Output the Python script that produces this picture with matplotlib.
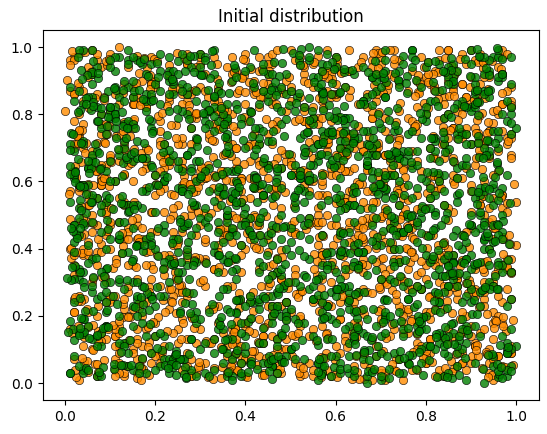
import numpy as np
import matplotlib
matplotlib.use("Agg")
import matplotlib.pyplot as plt

# agent locations in hundredths of the unit square
orange_x = """
37 82 05 61 94 18 73 46 29 57 08 91 64 33 76 12 48 99 21 67 03 85 52 39 70 14 96 27 58 81 43 09 66 35 88 24 71 50 02 93
16 79 44 62 31 87 06 55 98 23 68 40 11 84 59 26 77 04 92 47 35 63 19 86 51 28 74 01 95 42 69 13 80 57 30 97 22 65 38 89
53 07 72 45 90 17 61 34 83 10 56 99 28 75 41 02 67 36 93 20 78 49 15 86 58 32 71 04 95 26 63 48 11 84 39 70 23 57 91 06
44 81 29 66 13 97 52 08 74 37 60 25 89 46 03 78 31 94 55 19 68 42 85 10 63 27 99 50 36 72 14 88 47 21 59 01 76 33 92 65
09 54 87 30 71 18 96 43 62 05 79 38 24 91 57 12 84 66 40 27 73 02 98 51 35 80 16 69 45 93 22 58 07 77 34 86 49 11 64 100
26 70 41 83 15 59 32 97 48 06 75 21 90 53 37 64 10 82 44 28 99 61 17 73 52 04 88 39 66 23 95 46 13 79 56 31 02 85 68 20
92 38 63 11 77 45 24 86 00 57 33 70 14 96 49 81 27 62 08 54 91 36 75 19 43 87 60 29 05 72 48 94 15 67 34 80 56 22 99 41
71 13 58 84 27 03 66 40 95 19 52 87 31 74 09 46 63 98 25 80 12 57 39 91 68 06 43 77 30 85 18 61 94 50 37 02 73 26 89 55
34 67 08 90 51 23 78 45 16 99 62 30 85 04 71 38 56 12 93 47 26 81 65 09 53 97 20 74 42 88 01 59 35 83 14 68 46 97 21 76
60 25 93 42 07 81 35 69 14 88 53 26 72 47 98 10 64 31 85 03 76 58 22 94 39 67 11 83 50 28 90 44 17 73 61 05 96 37 55 80
18 86 49 02 73 57 29 95 64 36 11 80 43 67 22 91 08 54 77 35 60 14 89 46 71 25 99 52 03 68 40 84 29 62 10 93 48 75 32 07
83 45 15 70 39 92 61 04 27 78 50 96 33 12 87 56 41 69 18 99 24 83 06 65 37 90 48 16 74 59 31 05 88 43 66 21 97 54 12 79
47 02 76 58 23 85 10 63 94 31 69 07 82 45 54 28 95 13 61 38 72 49 86 20 03 57 79 34 62 15 91 70 26 45 83 08 60 39 94 51
68 93 31 16 88 44 72 27 55 03 84 62 19 98 35 74 47 02 80 59 11 95 36 53 88 42 17 66 24 99 07 52 77 33 48 91 13 84 65 28
05 58 87 43 64 19 37 91 80 49 22 74 56 08 63 40 15 97 28 71 46 33 60 82 14 75 51 99 38 06 63 85 41 20 57 76 30 02 89 44
76 29 52 95 10 67 83 46 21 58 93 35 04 70 88 17 52 79 43 26 64 90 08 38 97 29 61 13 84 46 72 23 55 94 09 68 37 81 16 60
39 81 24 67 98 32 05 56 74 12 45 86 63 27 40 92 69 34 15 87 50 21 78 57 42 65 03 90 71 18 36 100 47 62 28 85 53 06 74 97
14 63 90 08 51 76 42 18 99 65 31 07 94 53 81 24 36 60 89 11 73 47 98 04 26 84 44 59 17 80 52 66 01 38 92 14 75 45 30 57
87 40 69 33 22 96 59 71 37 88 04 50 28 79 15 63 95 48 07 54 33 68 26 91 55 12 78 35 93 62 20 41 86 70 56 03 28 99 62 19
52 07 35 81 66 14 89 25 46 61 77 97 10 39 64 06 83 21 72 30 92 57 15 43 69 81 32 06 48 25 98 77 11 64 38 86 51 23 08 71
29 74 97 50 03 43 27 85 62 10 55 39 68 83 48 90 19 75 57 66 02 39 80 63 17 94 45 72 89 36 13 58 69 30 84 45 97 16 82 41
95 36 18 72 84 58 11 93 02 70 20 63 41 17 96 34 55 87 43 24 78 61 09 28 83 50 67 21 06 75 47 90 33 54 18 71 02 66 37 88
61 87 45 23 39 06 78 49 31 96 84 13 58 91 27 73 09 40 26 99 47 16 70 95 34 59 08 86 41 63 29 82 77 07 60 23 50 91 44 15
08 51 72 99 27 65 92 16 57 34 43 71 05 86 62 19 46 93 67 01 54 88 37 12 76 46 90 24 65 52 82 10 39 97 74 55 30 85 61 26
43 19 84 60 12 88 47 30 71 09 95 38 76 22 53 81 28 64 04 90 16 69 43 79 21 02 57 96 31 18 70 42 94 62 26 89 14 78 49 34
""".split()

orange_y = """
71 22 48 93 06 64 37 85 12 59 80 28 43 97 15 66 31 74 09 52 88 40 19 61 03 77 34 95 50 26 82 13 69 45 98 07 58 21 86 36
47 90 14 63 29 81 55 02 73 38 96 17 60 42 85 24 69 11 53 78 33 99 06 67 45 20 89 57 30 74 08 62 91 39 16 83 51 27 70 04
92 35 67 18 84 43 09 76 58 25 41 88 03 64 19 97 47 72 30 56 12 81 60 38 93 22 75 49 01 86 63 31 14 79 54 95 28 44 65 10
56 13 80 42 71 97 27 61 36 04 89 53 74 20 48 32 06 91 67 45 79 15 99 24 57 84 37 68 11 92 46 73 23 59 02 87 34 62 98 18
30 77 05 88 52 16 94 44 70 21 63 09 37 83 56 11 85 28 40 95 62 25 71 06 43 80 16 54 97 33 68 04 86 48 23 76 90 14 58 41
83 49 26 60 35 78 12 99 03 69 18 75 51 94 29 64 40 57 87 02 33 70 46 91 17 58 82 08 37 65 21 95 54 11 79 42 63 27 04 90
15 64 93 07 46 23 87 51 81 38 72 44 27 08 66 89 13 35 60 78 96 49 22 85 66 31 03 72 92 14 59 40 76 27 88 06 47 71 33 55
68 02 39 75 98 57 33 18 62 90 05 31 92 59 44 23 74 98 16 52 09 84 57 34 01 93 47 19 63 80 39 75 10 66 50 32 99 19 85 24
41 86 59 28 14 84 66 06 49 73 55 98 16 77 03 70 52 83 25 37 71 13 94 61 78 24 88 53 41 06 96 23 62 87 45 13 71 56 08 79
97 27 71 50 63 09 45 92 20 15 82 66 40 33 87 47 18 61 90 74 28 56 38 03 49 65 11 36 99 71 17 85 42 04 68 91 26 80 48 35
24 60 13 86 40 31 79 55 74 94 26 08 71 49 58 12 94 06 39 63 85 35 20 77 89 42 68 95 26 48 83 02 57 32 81 23 64 01 73 96
62 39 88 04 91 68 24 38 09 56 47 80 23 100 32 77 61 42 82 11 50 02 67 46 14 59 31 07 81 62 37 53 89 19 97 72 05 49 15 28
05 78 45 69 22 52 98 73 67 43 11 39 93 65 14 87 29 03 54 93 66 24 88 18 73 36 97 84 54 10 76 18 45 95 30 59 86 38 92 63
79 16 64 31 83 14 48 26 95 80 71 54 09 28 79 37 46 70 21 47 04 81 44 59 06 90 20 43 15 67 02 63 28 84 52 11 43 67 26 50
38 93 29 58 05 89 60 11 31 19 64 96 50 74 42 02 85 56 76 30 98 13 62 35 94 50 78 25 66 99 46 32 71 08 60 40 95 21 76 12
87 44 97 13 67 35 04 83 57 71 27 15 84 37 61 90 20 33 97 64 40 57 77 12 52 03 65 89 38 22 73 91 16 48 24 81 16 55 03 68
11 70 52 82 37 74 94 48 23 03 89 62 34 05 96 53 69 81 09 25 87 29 10 93 71 44 33 14 79 58 29 54 99 63 07 36 78 92 44 83
53 25 06 39 96 21 58 66 84 47 36 20 75 90 19 26 08 47 64 86 16 67 51 40 28 83 56 92 07 44 85 09 40 75 89 65 20 61 30 17
73 98 36 77 11 63 30 01 42 89 59 45 02 52 83 72 43 14 98 57 34 94 73 26 60 17 04 68 50 88 62 43 87 22 56 01 52 09 69 97
27 55 80 21 54 43 85 71 14 64 04 92 68 41 24 64 96 78 34 05 73 38 83 65 99 37 81 45 23 12 34 78 02 70 13 94 34 85 59 42
94 07 18 65 75 08 39 92 52 26 79 33 57 99 10 46 35 55 79 69 21 61 06 48 11 75 29 62 95 77 53 15 68 97 41 26 75 13 02 66
46 81 70 46 29 99 16 60 35 97 14 85 24 63 69 18 88 27 12 45 90 19 54 86 38 84 57 06 30 50 10 71 34 60 82 51 07 46 92 21
19 61 43 92 60 50 77 24 87 08 53 22 87 11 37 95 65 07 59 82 58 43 31 07 81 64 15 76 49 93 80 26 93 47 11 67 88 27 55 78
65 32 99 09 86 34 55 85 03 39 93 68 42 76 54 31 05 91 40 16 77 09 97 55 22 32 91 41 83 02 67 48 06 35 73 04 60 99 38 04
34 89 22 74 48 80 13 47 68 77 18 49 06 32 81 59 79 22 70 99 12 70 40 28 63 96 48 20 61 35 19 86 52 14 64 45 29 82 10 87
""".split()

green_x = """
58 14 87 33 69 02 45 91 26 74 10 63 38 95 51 19 82 47 06 70 29 98 55 12 77 41 86 23 64 08 93 36 52 79 17 60 44 89 31 03
72 25 96 50 13 81 37 66 04 58 99 22 47 85 11 68 34 90 57 20 75 42 07 63 88 30 14 53 97 39 71 05 82 46 27 61 94 18 55 36
09 67 40 84 23 59 97 31 75 12 48 86 03 70 36 92 24 61 15 79 52 01 89 44 66 10 35 78 57 21 93 49 68 02 83 37 26 74 100 45
86 39 18 62 91 44 07 76 53 29 64 14 95 32 80 06 57 43 73 99 19 50 85 28 38 67 92 04 46 81 16 59 71 33 95 08 62 48 13 87
31 77 54 06 38 83 61 20 94 46 02 79 57 24 67 42 88 13 51 35 97 64 26 80 11 54 03 72 89 22 41 63 15 90 48 75 37 99 60 27
65 10 43 97 26 71 15 52 38 87 33 60 18 91 46 74 05 66 96 29 43 82 10 58 93 37 69 47 24 61 85 31 07 55 76 20 91 05 39 70
19 92 68 37 79 10 88 45 01 63 75 41 84 07 56 27 99 35 78 14 61 23 71 45 02 86 20 95 13 76 52 98 40 64 29 84 14 69 88 52
47 56 29 82 57 33 66 95 27 16 90 08 49 69 35 90 61 19 42 86 04 74 39 96 67 16 54 38 81 49 06 25 89 18 63 43 78 23 02 61
94 03 75 14 48 98 22 59 84 40 26 54 73 32 95 12 47 82 60 03 38 91 57 30 15 79 97 61 08 34 70 87 44 29 11 97 56 36 74 19
23 84 51 70 06 60 40 12 71 92 65 36 11 87 22 53 79 04 28 68 85 17 49 76 42 63 05 27 92 66 20 46 58 81 37 05 85 62 47 93
80 41 13 46 89 27 77 63 35 07 51 96 82 40 59 74 32 93 67 50 14 58 94 08 71 25 88 43 56 03 60 15 99 33 72 51 27 90 18 58
37 69 92 28 64 15 04 88 52 78 30 19 61 25 06 85 15 56 09 77 34 69 23 87 48 36 12 90 73 19 83 38 06 75 54 24 66 09 80 33
15 96 34 79 01 55 91 39 18 61 86 44 07 73 98 42 70 27 90 21 57 03 82 34 96 60 78 45 22 67 47 93 62 13 86 40 98 71 25 62
71 22 66 53 44 82 25 73 98 30 12 77 53 33 81 16 62 51 37 95 81 46 16 62 09 28 50 65 99 08 31 55 21 88 42 65 19 52 03 84
53 47 08 90 16 36 68 06 57 46 93 23 69 88 28 57 04 87 14 45 26 72 99 41 76 91 43 17 37 85 74 09 80 45 07 31 77 44 94 12
26 78 85 19 74 97 49 81 12 83 39 64 02 48 66 92 38 11 75 63 09 35 55 19 62 04 86 71 57 29 13 68 36 97 59 89 02 15 67 76
89 31 57 41 62 08 33 24 67 54 70 16 97 18 44 09 81 66 50 30 92 48 78 05 38 53 24 82 10 94 64 41 72 24 17 50 83 60 29 48
42 60 20 96 35 71 94 57 09 23 48 87 31 61 77 34 23 43 96 84 16 65 31 86 100 73 60 14 47 76 27 84 49 01 91 35 43 96 54 21
06 87 73 64 11 49 17 86 44 69 15 56 79 26 89 55 68 07 20 58 71 02 67 46 22 11 39 93 82 50 99 18 56 68 78 11 64 28 86 09
77 15 39 25 85 26 59 30 92 01 98 40 22 94 04 73 14 99 63 41 47 88 12 93 57 80 67 03 31 62 38 76 03 34 46 92 21 73 36 67
61 52 97 84 57 63 02 74 35 89 60 29 43 57 32 21 93 54 36 12 86 24 53 72 28 45 09 56 88 17 54 27 91 87 60 23 80 51 08 43
10 94 45 07 22 39 82 50 77 08 33 72 91 11 68 63 47 71 85 29 51 64 90 06 75 95 34 79 15 43 85 65 12 52 14 68 48 17 95 81
84 36 61 71 90 17 44 13 64 55 25 83 64 38 48 98 02 28 79 93 06 39 18 36 43 89 20 46 71 96 03 46 74 38 32 99 04 70 56 26
48 09 28 37 53 86 70 98 23 40 76 10 19 80 16 36 90 61 10 55 78 97 44 63 84 06 57 87 24 64 90 33 58 82 94 45 30 89 64 10
32 73 83 56 02 64 21 35 81 96 47 67 36 04 93 80 58 42 74 25 59 31 89 16 29 50 74 13 98 40 69 16 26 65 06 79 53 37 22 91
""".split()

green_y = """
23 88 56 04 71 39 92 17 63 45 81 08 34 97 52 26 69 13 85 41 60 02 77 30 94 49 18 66 53 11 87 36 73 28 95 58 06 42 80 15
67 31 90 46 12 84 55 22 99 38 74 07 61 29 93 47 16 82 35 59 03 88 25 70 44 10 96 57 33 79 20 64 51 05 86 39 72 14 91 48
40 75 09 62 97 27 50 83 14 68 32 95 44 01 78 56 89 21 66 06 49 71 37 93 15 82 58 29 75 98 40 08 63 47 24 90 33 60 11 84
91 18 43 79 35 56 02 68 47 87 21 53 75 64 11 99 32 48 09 80 26 62 91 13 53 71 36 04 88 44 67 19 85 39 58 02 77 50 28 64
52 64 96 27 83 12 72 40 30 05 61 88 19 43 85 24 65 77 54 37 92 15 46 82 60 28 99 42 17 62 94 53 30 81 07 69 45 16 97 35
16 43 24 58 07 93 37 61 91 74 09 33 67 86 47 03 41 94 28 73 12 56 79 23 00 63 41 87 68 06 35 78 14 70 46 23 89 59 02 76
78 97 70 13 49 66 19 86 54 22 45 81 02 55 31 68 89 10 58 95 44 37 19 65 84 36 14 53 90 25 61 10 48 92 66 37 51 08 74 29
33 06 53 87 62 41 84 08 38 96 71 26 92 17 76 34 54 65 43 15 83 68 06 97 32 72 56 21 11 86 48 79 26 57 03 83 15 93 42 61
85 52 29 39 20 78 60 35 71 14 57 100 40 77 05 85 22 46 81 31 63 06 87 49 17 51 91 38 64 33 02 54 95 21 76 45 66 28 53 09
07 79 65 91 54 26 11 97 25 50 35 63 82 09 60 18 73 03 94 68 29 52 40 74 99 12 64 80 46 07 89 23 68 36 55 17 94 72 37 48
60 24 84 32 74 47 99 53 06 82 19 44 27 70 39 90 57 28 65 10 78 35 96 15 57 43 84 33 01 59 18 77 05 92 31 81 40 24 86 13
46 90 14 69 02 85 30 16 63 42 98 76 56 33 92 08 46 71 21 50 38 87 11 61 34 79 20 95 69 42 66 31 56 16 49 06 75 63 20 99
97 36 57 19 88 61 45 77 84 28 66 12 94 48 23 62 14 96 38 83 05 59 73 45 91 08 47 72 26 14 82 47 39 70 89 52 12 99 58 34
21 71 39 82 42 10 64 49 04 61 31 55 07 85 67 41 79 56 07 29 70 20 53 88 27 64 10 39 97 51 03 65 93 24 61 35 84 44 05 73
54 11 76 50 25 73 91 29 87 18 86 03 49 36 13 95 33 05 76 64 98 46 33 06 69 87 76 18 57 80 36 24 78 58 11 97 27 87 68 43
89 65 03 95 67 35 21 58 43 95 54 72 24 64 84 27 60 88 45 17 54 80 25 41 52 19 38 61 44 02 72 91 09 43 74 65 08 53 19 25
12 48 86 26 16 53 82 07 68 37 09 41 80 03 51 74 11 39 62 92 23 15 69 85 09 68 93 32 82 69 13 45 62 86 29 42 60 94 36 81
68 28 62 73 56 96 40 71 17 90 77 29 63 45 99 48 86 25 70 53 41 73 96 36 76 30 55 09 23 46 88 57 20 03 82 16 71 35 62 05
37 93 18 41 80 24 57 33 75 57 23 91 10 58 32 14 37 69 04 34 85 62 00 92 47 97 15 70 84 38 25 92 71 52 17 79 48 04 90 56
75 04 47 66 38 81 08 94 51 03 84 47 36 93 72 56 05 82 27 78 63 10 44 57 24 80 65 49 12 75 54 06 34 87 41 58 26 75 13 66
03 58 92 09 93 45 69 21 28 67 49 18 73 21 02 87 92 43 50 12 31 90 74 20 63 06 34 99 40 21 97 68 83 11 65 30 94 11 80 22
94 35 31 78 14 03 50 87 97 45 13 68 55 80 61 29 64 15 89 46 07 53 28 66 95 42 78 16 90 59 14 39 48 62 99 86 43 67 47 52
27 83 70 55 47 67 26 11 36 79 92 34 04 44 88 09 47 76 18 97 68 41 81 02 36 71 51 26 62 75 87 55 07 37 21 10 59 31 06 87
58 17 44 02 70 32 88 62 81 23 59 96 86 16 26 74 99 31 60 25 48 14 56 79 11 89 03 83 35 14 47 75 98 72 55 44 19 82 73 30
81 62 24 88 31 77 15 42 55 99 27 02 50 71 43 38 20 58 93 39 02 76 37 30 84 22 67 48 09 93 68 20 57 27 13 61 32 01 45 91
""".split()

# more agents, in thousandths
orange_x2 = """
512 087 934 263 748 159 621 405 876 032 317 689 954 143 572 298 806 461 025 733 190 857 384 649 971 226 538 063 795 412 687 150 924 341 068
783 219 456 902 037 664 381 815 129 570 248 993 706 352 041 619 887 274 531 168 745 093 426 858 317 601 982 245 079 534 713 386 947 120 659
294 847 163 528 971 036 602 385 749 214 456 071 893 637 182 925 508 346 764 019 281 672 915 453 107 839 564 232 696 378 051 827 469 136 583
625 072 398 756 441 917 203 569 034 881 312 647 158 476 789 054 936 223 602 371 849 517 086 264 733 495 908 142 357 681 024 769 405 918 246
038 561 827 114 692 345 779 051 436 958 621 187 503 849 276 712 130 664 987 409 055 328 796 612 183 947 371 528 014 863 592 237 780 053 417
879 336 045 681 207 593 862 418 754 093 169 735 284 012 657 396 471 819 143 568 914 206 637 381 852 079 425 698 263 741 158 936 327 584 702
153 704 592 938 366 021 487 733 169 625 890 342 967 558 214 801 063 397 725 286 631 478 042 759 196 554 817 308 976 127 463 605 081 842 395
467 918 231 074 815 658 106 954 392 247 736 019 579 131 883 445 702 258 066 937 387 752 164 915 526 048 683 253 417 809 072 344 968 211 556
706 259 683 421 089 774 336 147 598 862 005 513 246 781 369 627 198 934 455 103 673 029 896 324 761 438 112 579 854 236 989 517 043 689 124
941 127 378 805 553 236 981 662 041 413 725 876 097 324 568 039 849 511 289 774 138 564 327 087 403 926 695 044 188 742 285 863 519 375 807
238 483 916 167 722 057 415 289 834 981 373 148 652 916 025 753 396 067 612 541 802 385 954 478 659 211 347 736 925 061 613 189 274 947 332
584 645 052 349 917 482 621 036 275 159 594 437 829 257 705 186 564 823 377 028 244 693 129 802 016 567 878 381 503 294 836 425 656 095 768
073 862 729 596 234 819 163 507 768 354 042 967 318 694 461 912 075 432 193 858 519 971 445 218 736 097 253 614 162 855 434 707 013 584 186
817 306 184 028 645 375 932 876 453 614 898 086 571 403 139 288 625 781 949 315 062 134 788 563 345 641 926 183 782 417 008 955 542 241 659
345 574 468 773 091 702 248 119 027 497 236 725 205 868 916 537 441 176 048 683 927 407 239 684 872 164 479 827 074 996 571 263 368 866 423
652 011 847 205 538 164 577 694 911 063 676 318 938 082 372 647 863 294 527 052 356 781 016 935 298 786 112 035 608 331 749 092 819 129 984
129 793 275 952 367 936 035 424 342 835 152 552 427 734 584 091 218 988 716 449 693 052 572 154 549 028 654 441 927 775 195 636 086 473 262
994 439 612 418 863 221 709 237 669 291 462 983 054 189 813 367 737 015 603 241 818 468 873 412 023 911 381 706 245 119 478 826 697 568 031
406 131 089 664 023 487 843 978 186 739 805 071 776 617 248 972 103 546 364 897 128 341 604 772 743 338 927 559 152 862 037 287 445 914 751
768 685 359 087 714 857 394 552 805 172 327 693 169 325 468 724 565 827 091 166 584 739 201 047 637 498 226 169 896 574 715 453 972 302 097
""".split()

orange_y2 = """
264 851 093 617 438 972 125 706 349 583 017 840 462 195 728 371 956 084 613 247 509 892 036 765 428 154 687 312 941 073 586 219 804 457 632
918 342 576 081 753 206 864 439 197 625 982 054 371 816 249 738 162 593 027 684 315 947 471 208 852 536 093 769 124 457 871 268 025 693 354
047 689 223 946 385 528 017 872 634 091 456 713 268 574 937 046 481 825 359 712 194 637 079 914 341 763 250 488 806 162 593 925 372 118 745
731 156 867 402 029 694 453 238 981 367 124 598 893 041 362 819 205 671 948 063 485 256 718 597 036 283 842 127 465 698 019 436 781 859 208
386 974 412 735 861 107 749 563 023 813 675 287 142 728 591 134 776 057 414 897 651 013 833 276 692 957 117 634 372 045 904 662 147 531 879
152 523 684 268 197 859 321 095 614 452 839 071 569 945 217 652 029 368 735 283 112 794 547 039 853 415 608 281 966 723 345 086 579 234 496
829 018 359 874 543 038 682 777 246 106 297 756 934 362 805 094 588 916 175 526 871 396 062 467 181 725 921 505 049 387 651 793 315 046 963
563 795 946 126 672 485 174 324 908 729 463 382 088 621 439 787 343 132 847 019 248 582 923 745 274 064 493 878 213 615 032 458 862 677 124
094 271 538 493 316 761 905 656 067 287 901 618 429 183 676 253 964 721 297 658 733 169 306 118 546 892 369 147 752 281 827 149 587 401 738
675 446 087 817 954 243 536 012 443 936 058 191 766 507 072 868 119 444 609 376 052 847 673 527 019 339 615 984 392 834 165 592 031 925 256
241 863 716 052 638 926 094 871 579 345 765 485 013 839 391 517 791 056 923 472 564 224 187 876 434 707 048 573 638 174 396 876 267 488 613
907 137 392 579 227 374 691 244 826 014 412 936 257 293 864 121 435 618 163 894 329 981 751 402 988 078 747 246 081 509 712 053 954 162 389
428 658 964 339 769 617 238 528 186 683 137 553 648 702 531 743 024 851 508 032 786 436 074 659 305 587 293 681 433 946 288 629 401 714 025
736 306 167 715 081 152 847 965 349 258 882 067 914 445 196 374 682 289 775 613 097 692 891 215 632 128 954 106 867 272 563 184 718 357 592
015 919 582 428 502 985 412 061 734 912 563 277 381 087 954 627 166 967 219 443 938 154 362 981 783 415 069 784 229 591 817 496 052 926 865
593 487 244 958 893 421 075 713 098 477 046 812 776 601 458 033 854 584 046 167 605 517 628 363 063 862 358 437 548 045 148 741 883 234 441
862 074 809 163 365 743 659 402 555 137 697 384 123 264 726 509 247 326 886 741 214 033 437 538 821 244 712 025 955 766 339 011 609 487 178
187 632 452 604 137 211 325 876 633 804 355 719 548 918 062 895 708 149 431 559 871 756 093 806 256 671 186 594 312 186 692 846 286 018 753
473 251 714 086 647 569 967 154 272 565 921 058 853 379 306 196 522 778 036 296 408 346 964 092 487 949 557 322 785 916 074 367 497 784 303
649 886 031 841 296 064 548 339 897 041 221 939 008 723 829 417 062 609 957 827 134 653 593 714 156 302 825 045 404 623 504 928 171 643 964
""".split()

green_x2 = """
417 836 059 728 293 671 154 985 342 609 873 128 506 761 034 452 917 283 638 095 574 826 239 113 689 948 305 562 076 794 421 157 873 346 609
182 547 906 363 825 014 648 279 731 094 456 817 173 589 342 926 063 718 264 885 137 592 405 961 028 743 316 684 859 207 572 034 918 463 251
856 273 481 619 057 942 335 763 126 518 789 062 934 247 681 313 574 846 019 496 758 221 649 072 387 815 946 173 514 638 089 761 227 596 932
039 695 712 254 488 167 873 415 957 382 034 641 287 806 163 749 902 138 553 627 041 369 816 534 192 267 483 821 047 363 915 486 653 114 708
673 128 364 941 706 538 021 689 244 867 516 293 758 095 915 472 256 591 861 183 928 567 034 298 645 931 712 058 379 804 246 127 804 729 356
284 759 927 085 342 836 491 017 583 136 962 425 049 683 377 028 679 324 705 452 196 743 918 462 057 574 231 893 616 145 698 907 364 047 562
518 043 645 377 914 263 705 852 319 745 087 571 892 336 524 861 135 957 268 739 084 331 675 817 426 109 854 305 982 563 037 432 681 953 129
961 462 186 813 559 094 256 438 674 023 618 884 147 568 206 643 487 062 839 021 663 886 127 549 793 362 041 713 265 926 483 218 539 286 874
347 885 538 126 067 791 619 147 896 592 253 316 716 015 792 097 738 413 176 954 521 205 792 073 361 848 617 256 408 079 752 964 086 671 413
723 216 079 694 826 345 963 571 035 384 873 648 025 941 354 568 281 696 482 573 014 954 438 986 225 507 174 939 733 486 108 593 755 384 047
092 638 843 432 173 716 108 924 463 817 491 035 619 273 807 236 916 189 347 608 382 471 586 153 714 061 379 587 842 321 914 036 472 819 238
604 371 254 957 531 047 826 287 761 141 659 962 354 829 152 475 609 731 053 274 857 137 068 822 467 638 943 124 176 695 249 773 118 542 694
236 914 718 078 395 589 341 663 012 968 217 533 785 073 643 988 043 557 914 782 206 649 843 331 596 012 274 465 892 027 563 856 629 968 315
849 187 423 613 862 272 573 051 509 246 788 107 436 691 331 164 874 302 258 439 727 028 359 686 034 784 415 886 047 583 376 681 017 207 778
457 543 006 286 645 839 193 448 835 681 039 719 961 424 519 713 526 871 684 125 459 914 582 226 848 346 802 054 626 149 821 128 486 741 443
128 769 631 846 014 468 649 899 278 352 574 281 242 857 066 386 195 012 456 863 075 318 752 613 156 932 063 696 341 957 045 495 937 359 021
784 326 381 517 957 116 032 734 596 071 933 843 609 168 778 597 827 442 763 345 593 768 205 417 959 237 591 325 913 412 728 274 541 096 834
375 052 902 193 475 683 916 264 123 899 365 496 093 512 423 041 662 935 112 604 164 481 945 798 269 483 728 871 189 736 174 967 204 617 562
618 935 267 741 229 344 757 586 989 467 126 034 832 752 285 839 301 247 637 017 842 106 623 051 707 171 036 542 567 268 983 353 858 466 187
011 487 768 362 811 972 405 155 706 004 842 664 276 396 961 653 459 776 034 579 383 687 413 536 822 604 937 087 718 889 518 616 096 781 953
""".split()

green_y2 = """
583 142 927 361 704 036 869 415 258 793 127 654 981 302 546 079 835 268 713 459 194 625 048 872 337 591 916 263 684 025 758 407 139 862 514
267 809 354 685 018 743 192 576 924 341 068 897 236 753 184 612 957 041 468 825 307 739 182 546 971 094 463 728 015 589 846 331 674 208 957
931 476 062 824 539 281 617 058 387 962 445 213 679 094 826 358 734 507 129 683 862 054 416 907 251 628 087 394 852 743 166 493 917 049 582
145 627 897 213 468 956 024 734 652 097 813 584 362 437 051 973 206 668 895 241 583 176 729 315 642 048 995 218 563 381 734 062 518 781 246
708 053 438 576 182 605 349 921 083 456 179 726 504 868 715 264 489 132 357 914 426 891 253 662 084 437 576 639 209 956 024 807 295 347 689
352 914 671 047 893 317 785 162 546 729 635 041 918 219 372 806 127 945 584 036 749 318 974 071 813 261 694 145 743 127 591 248 863 506 113
864 286 215 938 534 072 451 697 812 184 294 863 157 654 993 438 673 281 016 752 163 542 098 455 538 879 327 804 366 678 905 439 032 714 765
019 751 583 369 127 764 208 347 069 631 926 357 682 025 461 117 354 836 748 597 831 073 616 289 196 704 152 516 928 042 283 687 476 193 328
623 438 746 154 659 528 936 053 473 892 072 495 809 346 786 552 901 065 285 423 947 287 402 924 359 017 782 071 454 817 661 112 849 925 057
496 097 329 802 269 197 564 813 715 246 758 168 443 917 128 681 236 592 951 074 308 614 165 536 738 553 964 438 687 293 042 956 367 572 848
217 565 926 492 845 683 058 276 954 377 187 931 285 563 067 353 798 437 102 863 594 029 826 687 081 825 247 653 135 909 357 515 081 243 416
782 334 478 058 377 045 823 529 164 513 614 026 732 148 519 914 042 768 624 309 175 758 371 147 463 349 872 093 714 562 816 226 696 784 109
058 873 014 637 724 861 382 098 646 965 339 689 093 781 264 775 469 308 837 198 912 341 487 795 936 622 086 556 298 431 072 793 247 016 693
347 216 695 289 116 419 716 661 302 086 803 258 591 434 854 029 566 917 361 659 456 668 219 043 587 156 439 963 831 748 564 138 451 379 902
871 649 153 973 568 929 251 382 873 422 476 784 037 614 396 247 128 726 582 053 721 206 947 612 224 819 628 134 046 364 957 871 735 882 254
532 082 386 116 462 597 676 913 209 771 051 538 358 967 712 584 843 186 445 817 032 871 561 393 758 286 316 773 584 657 213 302 084 514 628
186 987 816 573 998 236 143 441 789 144 938 167 867 256 042 643 395 671 083 529 664 498 104 892 472 905 746 236 994 193 648 786 603 167 471
947 358 572 745 283 754 568 027 537 626 212 827 486 832 609 189 271 447 728 281 873 143 386 518 019 464 551 412 177 819 411 049 952 446 033
416 724 237 398 045 172 894 796 036 858 556 461 211 073 926 418 615 054 931 742 317 519 688 039 907 074 193 847 529 272 107 563 328 896 787
694 165 658 034 729 483 032 225 924 313 687 092 974 503 471 831 011 962 164 387 638 958 807 746 136 674 868 317 726 008 976 665 792 235 318
""".split()

title = "Initial distribution"
ticks = [0.0, 0.2, 0.4, 0.6, 0.8, 1.0]


def to_coords(xs, ys, scale):
    n = min(len(xs), len(ys))
    x = np.array(xs[:n], dtype=float) / scale
    y = np.array(ys[:n], dtype=float) / scale
    return x, y


def agent_locations(xs, ys, xs2, ys2):
    x1, y1 = to_coords(xs, ys, 100)
    x2, y2 = to_coords(xs2, ys2, 1000)
    return np.concatenate([x1, x2]), np.concatenate([y1, y2])


fig = plt.figure(figsize=(5.47, 4.34), dpi=100)
ax = fig.add_axes([0.0777, 0.0788, 0.9068, 0.8516])

groups = [
    (agent_locations(orange_x, orange_y, orange_x2, orange_y2), "darkorange"),
    (agent_locations(green_x, green_y, green_x2, green_y2), "green"),
]

# orange first, green drawn on top
for (x, y), color in groups:
    ax.plot(x, y, "o", markersize=6, markerfacecolor=color,
            markeredgecolor="black", markeredgewidth=0.5, alpha=0.8)

ax.set_xticks(ticks)
ax.set_yticks(ticks)
ax.set_title(title)

fig.savefig("out.png", dpi=100)
